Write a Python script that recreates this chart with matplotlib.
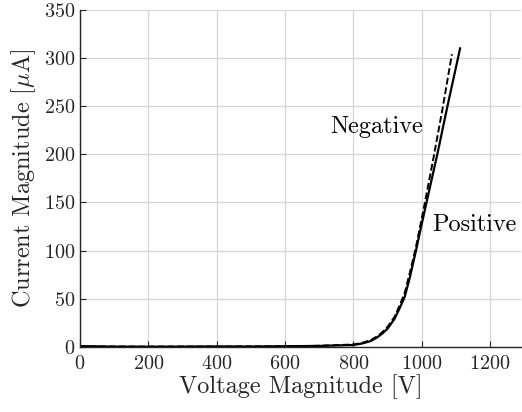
import matplotlib
matplotlib.use("Agg")
import matplotlib.pyplot as plt

plt.rcParams["font.family"] = "serif"
plt.rcParams["font.serif"] = ["cmr10"]
plt.rcParams["mathtext.fontset"] = "cm"
plt.rcParams["axes.formatter.use_mathtext"] = True

# positive polarity sweep
pos_v = [0, 100, 200, 300, 400, 500, 600, 700, 800, 825, 850, 870, 885, 900,
         920, 935, 950, 965, 983, 1000, 1022, 1046, 1075, 1112]
pos_i = [0.8, 0.3, 0.2, 0.3, 0.5, 0.4, 0.7, 1.0, 2.0, 3.5, 6, 10, 14, 19,
         29, 40, 52, 72, 100, 128, 163, 201, 250, 310]

# negative polarity sweep
neg_v = [0, 100, 200, 300, 400, 500, 600, 700, 800, 825, 850, 870, 885, 900,
         920, 935, 950, 965, 983, 1007, 1034, 1061, 1088]
neg_i = [0.5, 0.4, 0.3, 0.4, 0.3, 0.5, 0.6, 1.2, 2.5, 4.2, 7, 11, 15.5, 21,
         31, 43, 56, 77, 104, 146, 196, 248, 304]

xticks = [0, 200, 400, 600, 800, 1000, 1200]
yticks = [0, 50, 100, 150, 200, 250, 300, 350]

fig = plt.figure(figsize=(5.22, 4.12), dpi=100)
ax = fig.add_axes([0.153, 0.158, 0.845, 0.818])

ax.plot(pos_v, pos_i, color="black", lw=1.6, ls="-")
ax.plot(neg_v, neg_i, color="black", lw=1.4, ls=(0, (3.5, 1.5)))

ax.text(733, 228, "Negative", fontsize=17.5, va="center", ha="left")
ax.text(1031, 127, "Positive", fontsize=17.5, va="center", ha="left")

ax.set_xlim(0, 1290)
ax.set_ylim(0, 350)
ax.set_xticks(xticks)
ax.set_yticks(yticks)
ax.grid(True, color="#d6d6d6", lw=0.9)
ax.set_axisbelow(True)
for s in ["top", "right"]:
    ax.spines[s].set_visible(False)
for s in ["left", "bottom"]:
    ax.spines[s].set_color("#262626")
    ax.spines[s].set_linewidth(1.0)
ax.tick_params(direction="in", length=4, labelsize=14.5, colors="#262626")
ax.tick_params(axis="x", pad=6)

ax.set_xlabel("Voltage Magnitude [V]", fontsize=17.5, color="#262626", labelpad=1)
ax.set_ylabel(r"Current Magnitude [$\mu$A]", fontsize=17.5, color="#262626", labelpad=4)

plt.savefig("out.png", dpi=100)
